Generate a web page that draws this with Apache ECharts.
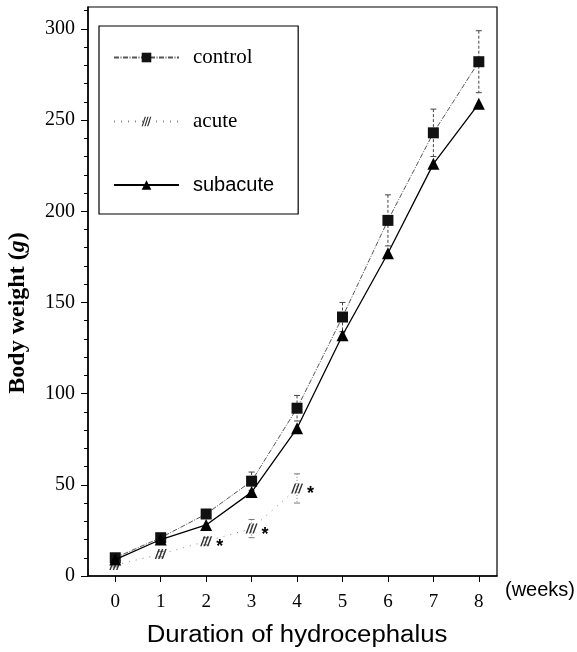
<!DOCTYPE html>
<html>
<head>
<meta charset="utf-8">
<script src="https://cdn.jsdelivr.net/npm/echarts@6/dist/echarts.min.js"></script>
<style>
html,body{margin:0;padding:0;background:#fff;}
#c{width:577px;height:652px;}
</style>
</head>
<body>
<div id="c"></div>
<script>
// ---- data ----
const weeks = [0, 1, 2, 3, 4, 5, 6, 7, 8];
const controlMean = [10, 21, 34, 52, 92, 142, 195, 243, 282];
const controlSD = [1.5, 2, 2, 5, 7, 8, 14, 13, 17];
const acuteWeeks = [0, 1, 2, 3, 4];
const acuteMean = [6, 12, 19, 26, 48];
const acuteSD = [1, 1.5, 2, 5, 8];
const acuteSignif = ['', '', '*', '*', '*'];
const subacuteMean = [9, 20, 28, 46, 81, 132, 177, 226, 259];
const xTickLabels = [0, 1, 2, 3, 4, 5, 6, 7, 8];
const yMajorTicks = [0, 50, 100, 150, 200, 250, 300];
const yMinorTicks = [0,10,20,30,40,50,60,70,80,90,100,110,120,130,140,150,160,170,180,190,200,210,220,230,240,250,260,270,280,290,300,310];
const seriesNames = ['control', 'acute', 'subacute'];

const serif = '"Liberation Serif", "Times New Roman", serif';
const sans = '"Liberation Sans", Arial, Helvetica, sans-serif';

const hatch = 'path://M0,10 L4,0 L5.6,0 L1.6,10 Z M3.6,10 L7.6,0 L9.2,0 L5.2,10 Z M7.2,10 L11.2,0 L12.8,0 L8.8,10 Z';

function errRender(color, dash) {
  return function (params, api) {
    const x = api.value(0), m = api.value(1), s = api.value(2);
    const top = api.coord([x, m + s]);
    const bot = api.coord([x, m - s]);
    const cap = 3;
    return {
      type: 'group',
      children: [
        {type: 'line', shape: {x1: top[0], y1: top[1], x2: bot[0], y2: bot[1]},
         style: {stroke: color, lineWidth: 1, lineDash: dash}},
        {type: 'line', shape: {x1: top[0] - cap, y1: top[1], x2: top[0] + cap, y2: top[1]},
         style: {stroke: color, lineWidth: 1}},
        {type: 'line', shape: {x1: bot[0] - cap, y1: bot[1], x2: bot[0] + cap, y2: bot[1]},
         style: {stroke: color, lineWidth: 1}}
      ]
    };
  };
}

const chart = echarts.init(document.getElementById('c'), null, {renderer: 'canvas'});
chart.setOption({
  animation: false,
  backgroundColor: '#fff',
  grid: {left: 88, right: 80, top: 7, bottom: 76, show: true, borderColor: '#000', borderWidth: 1.2, backgroundColor: 'transparent'},
  xAxis: {
    type: 'value', min: -0.6, max: 8.4,
    axisLine: {show: true, onZero: false, lineStyle: {color: '#000', width: 1.5}},
    axisTick: {show: true, customValues: xTickLabels, length: 6, lineStyle: {color: '#000', width: 1}},
    axisLabel: {show: true, customValues: xTickLabels, margin: 17, fontFamily: serif, fontSize: 19, color: '#000'},
    splitLine: {show: false}
  },
  yAxis: [{
    type: 'value', min: 0, max: 312,
    axisLine: {show: true, onZero: false, lineStyle: {color: '#000', width: 1.5}},
    axisTick: {show: true, customValues: yMajorTicks, length: 7, lineStyle: {color: '#000', width: 1}},
    axisLabel: {show: true, customValues: yMajorTicks, margin: 13, fontFamily: serif, fontSize: 20, color: '#000'},
    splitLine: {show: false}
  }, {
    type: 'value', min: 0, max: 312, position: 'left',
    axisLine: {show: false, onZero: false},
    axisTick: {show: true, customValues: yMinorTicks, length: 4, lineStyle: {color: '#000', width: 1}},
    axisLabel: {show: false},
    splitLine: {show: false}
  }],
  legend: {
    orient: 'vertical', left: 99, top: 26,
    itemWidth: 65, itemHeight: 12, itemGap: 43,
    padding: [21, 24, 19, 14],
    borderColor: '#000', borderWidth: 1.2,
    backgroundColor: '#fff',
    data: [
      {name: seriesNames[0], textStyle: {fontFamily: serif, fontSize: 21}},
      {name: seriesNames[1], textStyle: {fontFamily: serif, fontSize: 21}},
      {name: seriesNames[2], textStyle: {fontFamily: sans, fontSize: 20}}
    ],
    textStyle: {color: '#000', padding: [0, 0, 0, 9]}
  },
  graphic: [
    {type: 'text', left: 505, top: 580,
     style: {text: '(weeks)', font: '20px ' + sans, fill: '#000'}},
    {type: 'text', x: 297, y: 636, scaleX: 1.12,
     style: {text: 'Duration of hydrocephalus', font: '23px ' + sans, fill: '#000',
             align: 'center', verticalAlign: 'middle'}},
    {type: 'text', x: 18, y: 313, rotation: Math.PI / 2,
     style: {text: 'Body weight ({i|g})', font: 'bold 24px ' + serif, fill: '#000',
             align: 'center', verticalAlign: 'middle',
             rich: {i: {fontStyle: 'italic', fontWeight: 'bold', fontSize: 24, fontFamily: serif}}}}
  ],
  series: [
    {
      type: 'custom', name: 'controlErr', renderItem: errRender('#444', [3, 2]),
      encode: {x: 0, y: 1}, z: 1, silent: true,
      data: weeks.map((w, i) => [w, controlMean[i], controlSD[i]])
    },
    {
      type: 'custom', name: 'acuteErr', renderItem: errRender('#777', [1, 2]),
      encode: {x: 0, y: 1}, z: 1, silent: true,
      data: acuteWeeks.map((w, i) => [w, acuteMean[i], acuteSD[i]])
    },
    {
      type: 'line', name: seriesNames[0], z: 3,
      data: weeks.map((w, i) => [w, controlMean[i]]),
      symbol: 'rect', symbolSize: 11,
      itemStyle: {color: '#111'},
      lineStyle: {color: '#555', width: 1, type: [5, 1.5, 1, 1.5]}
    },
    {
      type: 'line', name: seriesNames[1], z: 3,
      data: acuteWeeks.map((w, i) => [w, acuteMean[i]]),
      symbol: hatch, symbolSize: [12, 10],
      itemStyle: {color: '#333'},
      lineStyle: {color: '#888', width: 1, type: [1, 6]},
      label: {
        show: true, position: 'right', distance: 4, offset: [0, 6],
        formatter: p => acuteSignif[p.dataIndex],
        fontFamily: sans, fontSize: 18, fontWeight: 'bold', color: '#000'
      }
    },
    {
      type: 'line', name: seriesNames[2], z: 4,
      data: weeks.map((w, i) => [w, subacuteMean[i]]),
      symbol: 'triangle', symbolSize: 12,
      itemStyle: {color: '#000'},
      lineStyle: {color: '#000', width: 1.3, type: 'solid'}
    }
  ]
});
</script>
</body>
</html>
